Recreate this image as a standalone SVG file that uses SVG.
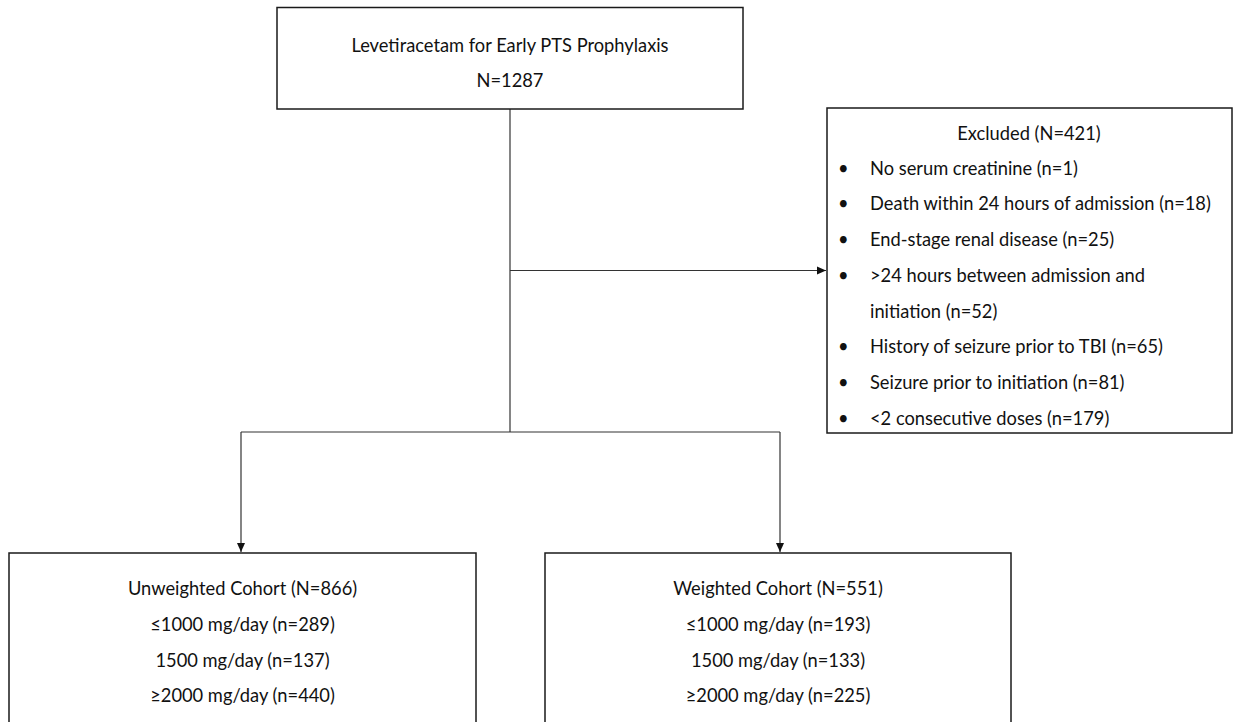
<svg xmlns="http://www.w3.org/2000/svg" width="1237" height="722" viewBox="0 0 1237 722">
<style>
.box{fill:#fff;stroke:#1a1a1a;stroke-width:1.5}
.t{font-family:Lato,"Liberation Sans",sans-serif;font-size:18.3px;fill:#111}
.c{text-anchor:middle}
.ln{fill:none;stroke:#333;stroke-width:1.2}
</style>
<defs>
<marker id="ah" markerWidth="10" markerHeight="10" refX="9" refY="5" orient="auto" markerUnits="userSpaceOnUse">
<path d="M0,1 L9,5 L0,9 Z" fill="#111"/>
</marker>
</defs>
<rect width="1237" height="722" fill="#fff"/>
<g id="connectors">
<path class="ln" d="M510,109 V432"/>
<path class="ln" d="M510,270.5 H826" marker-end="url(#ah)"/>
<path class="ln" d="M241,432 H780"/>
<path class="ln" d="M241,432 V552" marker-end="url(#ah)"/>
<path class="ln" d="M780,432 V552" marker-end="url(#ah)"/>
</g>
<g id="start">
<rect class="box" x="277" y="7.5" width="466" height="101.5"/>
<text class="t c" x="510" y="52">Levetiracetam for Early PTS Prophylaxis</text>
<text class="t c" x="510" y="87">N=1287</text>
</g>
<g id="excluded">
<rect class="box" x="827" y="108" width="405" height="325"/>
<text class="t c" x="1029" y="140">Excluded (N=421)</text>
<g class="t">
<text x="838" y="175">•</text><text x="870" y="175">No serum creatinine (n=1)</text>
<text x="838" y="210">•</text><text x="870" y="210">Death within 24 hours of admission (n=18)</text>
<text x="838" y="246">•</text><text x="870" y="246">End-stage renal disease (n=25)</text>
<text x="838" y="282">•</text><text x="870" y="282">&gt;24 hours between admission and</text>
<text x="870" y="318">initiation (n=52)</text>
<text x="838" y="353">•</text><text x="870" y="353">History of seizure prior to TBI (n=65)</text>
<text x="838" y="389">•</text><text x="870" y="389">Seizure prior to initiation (n=81)</text>
<text x="838" y="425">•</text><text x="870" y="425">&lt;2 consecutive doses (n=179)</text>
</g>
</g>
<g id="unweighted">
<rect class="box" x="9" y="553" width="467" height="180"/>
<text class="t c" x="242.5" y="595">Unweighted Cohort (N=866)</text>
<text class="t c" x="242.5" y="631">≤1000 mg/day (n=289)</text>
<text class="t c" x="242.5" y="667">1500 mg/day (n=137)</text>
<text class="t c" x="242.5" y="702">≥2000 mg/day (n=440)</text>
</g>
<g id="weighted">
<rect class="box" x="545" y="553" width="466" height="180"/>
<text class="t c" x="778" y="595">Weighted Cohort (N=551)</text>
<text class="t c" x="778" y="631">≤1000 mg/day (n=193)</text>
<text class="t c" x="778" y="667">1500 mg/day (n=133)</text>
<text class="t c" x="778" y="702">≥2000 mg/day (n=225)</text>
</g>
</svg>
